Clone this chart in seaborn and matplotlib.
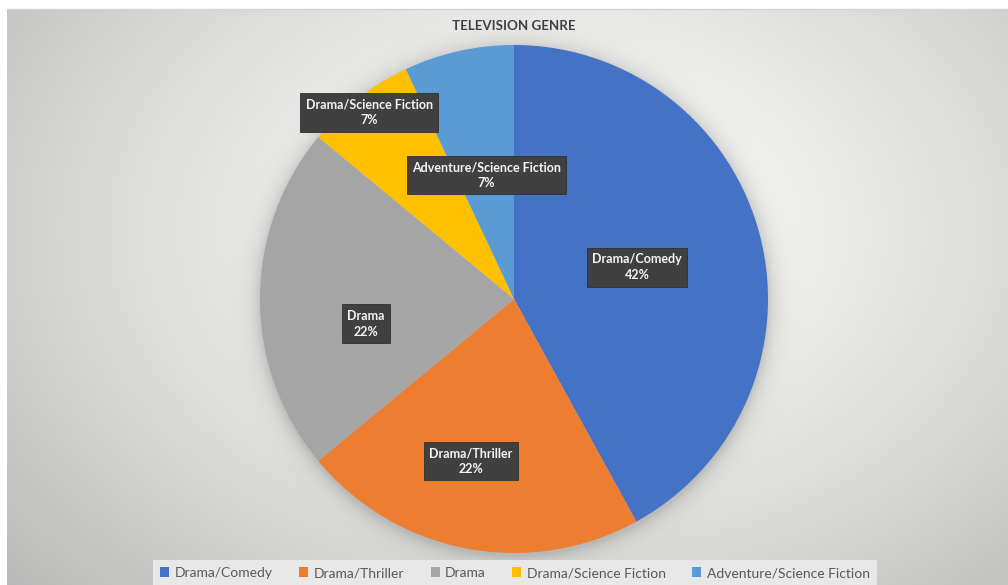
import numpy as np
import matplotlib
matplotlib.use("Agg")
import matplotlib.pyplot as plt
from matplotlib.patches import Patch
import seaborn as sns

# Share of television shows by genre (percent)
genres = ["Drama/Comedy", "Drama/Thriller", "Drama", "Drama/Science Fiction", "Adventure/Science Fiction"]
shares = [42, 22, 22, 7, 7]
colors = ["#4472C4", "#ED7D31", "#A5A5A5", "#FFC000", "#5B9BD5"]

# label placement inside each wedge: (radius fraction, angle shift in degrees)
label_place = [(0.50, 0.0), (0.66, -4.0), (0.59, 9.5), (0.93, 0.0), (0.50, 0.0)]

sns.set_theme(style="white")
plt.rcParams["font.family"] = ["Lato", "DejaVu Sans"]

W, H = 1008, 585
fig = plt.figure(figsize=(W / 100, H / 100), dpi=100)
fig.patch.set_facecolor("white")

# chart area background: soft radial gradient with a shadow under the pie
left_px, top_px = 7, 9
cx_pie, cy_pie, r_pie = 514, 299, 254
bw, bh = W - left_px, H - top_px
yy, xx = np.mgrid[0:bh, 0:bw].astype(float)
xx += left_px
yy += top_px
t = np.sqrt(((xx - 560) / 600) ** 2 + ((yy - 230) / 430) ** 2)
val = 252 - 50 * np.clip(t, 0, 1.3) ** 1.4
rr = np.sqrt((xx - cx_pie) ** 2 + (yy - cy_pie - 2) ** 2)
shadow = np.where(rr > r_pie, np.exp(-(rr - r_pie) / 9.0), 1.0)
val = val * (1 - 0.16 * shadow)
img = np.clip(val, 0, 255) / 255.0
bg = fig.add_axes([left_px / W, 0, bw / W, bh / H])
bg.imshow(np.dstack([img, img, img * 0.995]), aspect="auto", interpolation="bilinear")
bg.set_axis_off()
fig.add_artist(plt.Line2D([left_px / W, 1], [1 - top_px / H, 1 - top_px / H],
                          color="#d4d4d4", lw=1.0, transform=fig.transFigure))

# pie axes sized so that radius 1 maps to r_pie pixels
ax = fig.add_axes([(cx_pie - r_pie) / W, (H - cy_pie - r_pie) / H, 2 * r_pie / W, 2 * r_pie / H])
wedges, _ = ax.pie(shares, colors=colors, startangle=90, counterclock=False,
                   radius=1.0, wedgeprops=dict(linewidth=0))
ax.set_xlim(-1, 1)
ax.set_ylim(-1, 1)
ax.set_aspect("equal")
ax.set_axis_off()

total = float(sum(shares))
cum = 0.0
for g, s, (rf, shift) in zip(genres, shares, label_place):
    mid = 90 - 360 * (cum + s / 2) / total + shift
    cum += s
    x = rf * np.cos(np.radians(mid))
    y = rf * np.sin(np.radians(mid))
    ax.text(x, y, f"{g}\n{s}%", ha="center", va="center", color="#f4f4f4",
            fontsize=9.0, fontweight="bold", linespacing=1.4,
            bbox=dict(boxstyle="square,pad=0.42", facecolor="#404040",
                      edgecolor="#303030", linewidth=0.6))

fig.text(514 / W, 1 - 26 / H, "TELEVISION GENRE", ha="center", va="center",
         fontsize=9.6, fontweight="bold", color="#404040")

handles = [Patch(facecolor=c, edgecolor="none") for c in colors]
leg = fig.legend(handles, genres, loc="center", bbox_to_anchor=(515 / W, 1 - 573 / H),
                 ncol=5, frameon=True, fontsize=10, handlelength=0.65, handleheight=0.65,
                 handletextpad=0.4, columnspacing=1.9, borderpad=0.5)
leg.get_frame().set_facecolor("#e8e8e8")
leg.get_frame().set_edgecolor("none")
leg.get_frame().set_alpha(1.0)
leg.get_frame().set_boxstyle("square", pad=0)
for txt in leg.get_texts():
    txt.set_color("#595959")

fig.savefig("out.png", dpi=100)
